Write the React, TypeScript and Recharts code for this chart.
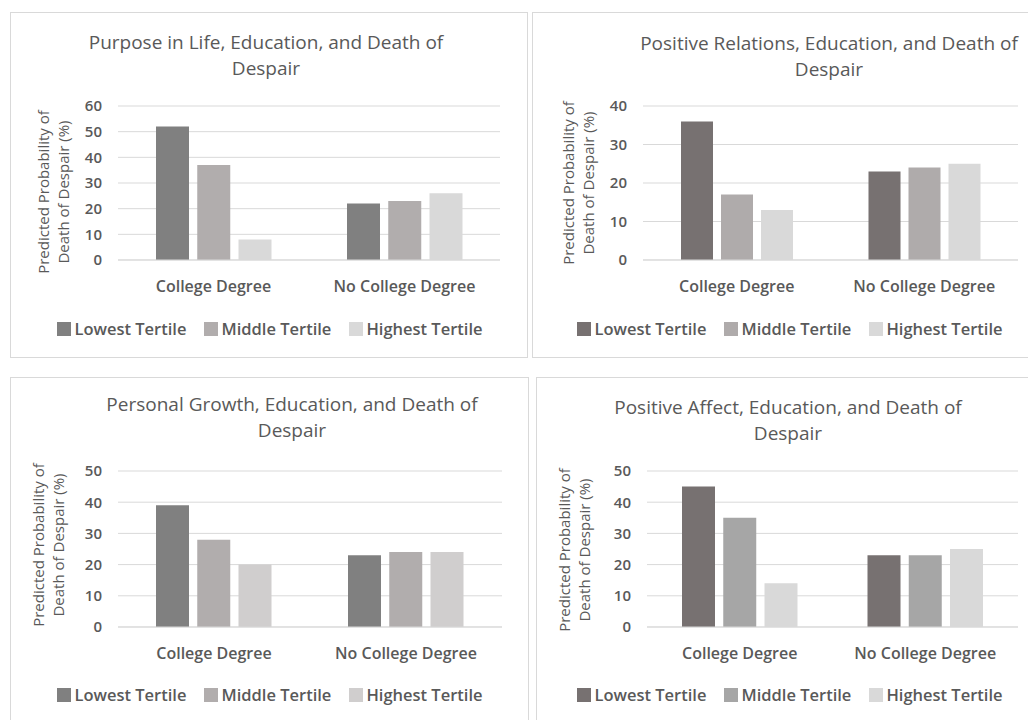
import { BarChart, Bar, XAxis, YAxis, CartesianGrid } from 'recharts';

const categories = ['College Degree', 'No College Degree'];
const seriesNames = ['Lowest Tertile', 'Middle Tertile', 'Highest Tertile'];

// values per category: [college, no college]
const purposeLowest = [52, 22];
const purposeMiddle = [37, 23];
const purposeHighest = [8, 26];

const relationsLowest = [36, 23];
const relationsMiddle = [17, 24];
const relationsHighest = [13, 25];

const growthLowest = [39, 23];
const growthMiddle = [28, 24];
const growthHighest = [20, 24];

const affectLowest = [45, 23];
const affectMiddle = [35, 23];
const affectHighest = [14, 25];

const purposeTicks = [0, 10, 20, 30, 40, 50, 60];
const relationsTicks = [0, 10, 20, 30, 40];
const growthTicks = [0, 10, 20, 30, 40, 50];
const affectTicks = [0, 10, 20, 30, 40, 50];

const TEXT = '#595959';
const FONT = '"Open Sans", "Liberation Sans", sans-serif';

function buildRows(lowest: number[], middle: number[], highest: number[]) {
  return categories.map((name, i) => ({
    name,
    lowest: lowest[i],
    middle: middle[i],
    highest: highest[i],
  }));
}

interface PanelProps {
  box: { x: number; y: number; w: number; h: number };
  plot: { left: number; right: number; top: number; bottom: number };
  title: string[];
  titleX: number;
  titleY: number;
  yLabelX: number;
  yLabelY: number;
  legendX: number;
  legendY: number;
  rows: { name: string; lowest: number; middle: number; highest: number }[];
  ticks: number[];
  colors: string[];
  barSize: number;
}

function Panel(p: PanelProps) {
  const chartLeft = p.plot.left - 110;
  const chartTop = p.plot.top - 20;
  const chartW = p.plot.right - chartLeft + 10;
  const chartH = p.plot.bottom - chartTop + 40;
  const max = p.ticks[p.ticks.length - 1];
  return (
    <>
      <div
        style={{
          position: 'absolute',
          left: p.box.x,
          top: p.box.y,
          width: p.box.w,
          height: p.box.h,
          border: '1px solid #d9d9d9',
          boxSizing: 'border-box',
          background: '#fff',
        }}
      />
      <div
        style={{
          position: 'absolute',
          left: p.titleX - 250,
          top: p.titleY - 13,
          width: 500,
          textAlign: 'center',
          fontFamily: FONT,
          fontSize: 19,
          lineHeight: '26px',
          color: TEXT,
          whiteSpace: 'nowrap',
        }}
      >
        {p.title.map((t) => (
          <div key={t}>{t}</div>
        ))}
      </div>
      <div
        style={{
          position: 'absolute',
          left: p.yLabelX - 100,
          top: p.yLabelY - 20,
          width: 200,
          height: 40,
          transform: 'rotate(-90deg)',
          textAlign: 'center',
          fontFamily: FONT,
          fontSize: 15,
          lineHeight: '20px',
          color: TEXT,
          whiteSpace: 'nowrap',
        }}
      >
        <div>Predicted Probability of</div>
        <div>Death of Despair (%)</div>
      </div>
      <div style={{ position: 'absolute', left: chartLeft, top: chartTop }}>
        <BarChart
          width={chartW}
          height={chartH}
          data={p.rows}
          margin={{ top: 20, right: 10, left: 0, bottom: 10 }}
          barGap={p.barSize / 4}
          barSize={p.barSize}
        >
          <CartesianGrid vertical={false} stroke="#d9d9d9" />
          <XAxis
            dataKey="name"
            height={30}
            axisLine={{ stroke: '#d9d9d9' }}
            tickLine={false}
            tickSize={19}
            tickMargin={2}
            tick={{ fill: TEXT, fontSize: 16, fontFamily: FONT, fontWeight: 600 }}
          />
          <YAxis
            width={110}
            domain={[0, max]}
            ticks={p.ticks}
            interval={0}
            axisLine={false}
            tickLine={false}
            tickSize={14}
            tickMargin={2}
            tick={{ fill: TEXT, fontSize: 15, fontFamily: FONT, fontWeight: 600 }}
          />
          <Bar dataKey="lowest" name={seriesNames[0]} fill={p.colors[0]} isAnimationActive={false} />
          <Bar dataKey="middle" name={seriesNames[1]} fill={p.colors[1]} isAnimationActive={false} />
          <Bar dataKey="highest" name={seriesNames[2]} fill={p.colors[2]} isAnimationActive={false} />
        </BarChart>
      </div>
      <div
        style={{
          position: 'absolute',
          left: p.legendX - 250,
          top: p.legendY - 11,
          width: 500,
          display: 'flex',
          justifyContent: 'center',
          fontFamily: FONT,
          fontSize: 16.5,
          fontWeight: 600,
          lineHeight: '22px',
          color: TEXT,
          whiteSpace: 'nowrap',
        }}
      >
        {seriesNames.map((s, i) => (
          <span key={s} style={{ display: 'flex', alignItems: 'center', marginRight: i < 2 ? 18 : 0 }}>
            <span style={{ width: 14, height: 14, background: p.colors[i], marginRight: 3, display: 'inline-block' }} />
            {s}
          </span>
        ))}
      </div>
    </>
  );
}

export default function App() {
  return (
    <div style={{ position: 'relative', width: 1028, height: 720, overflow: 'hidden', background: '#fff' }}>
      <style>{'body{margin:0}'}</style>
      <Panel
        box={{ x: 10, y: 12, w: 518, h: 346 }}
        plot={{ left: 118, right: 500, top: 106, bottom: 260 }}
        title={['Purpose in Life, Education, and Death of', 'Despair']}
        titleX={266}
        titleY={42}
        yLabelX={53}
        yLabelY={192}
        legendX={270}
        legendY={329}
        rows={buildRows(purposeLowest, purposeMiddle, purposeHighest)}
        ticks={purposeTicks}
        colors={['#808080', '#b1adad', '#d9d9d9']}
        barSize={33}
      />
      <Panel
        box={{ x: 532, y: 12, w: 520, h: 346 }}
        plot={{ left: 643, right: 1018, top: 106, bottom: 260 }}
        title={['Positive Relations, Education, and Death of', 'Despair']}
        titleX={829}
        titleY={43}
        yLabelX={578}
        yLabelY={183}
        legendX={790}
        legendY={329}
        rows={buildRows(relationsLowest, relationsMiddle, relationsHighest)}
        ticks={relationsTicks}
        colors={['#777171', '#afabab', '#d9d9d9']}
        barSize={32}
      />
      <Panel
        box={{ x: 10, y: 377, w: 519, h: 360 }}
        plot={{ left: 118, right: 502, top: 471, bottom: 627 }}
        title={['Personal Growth, Education, and Death of', 'Despair']}
        titleX={292}
        titleY={404}
        yLabelX={48}
        yLabelY={545}
        legendX={270}
        legendY={695}
        rows={buildRows(growthLowest, growthMiddle, growthHighest)}
        ticks={growthTicks}
        colors={['#808080', '#b1adad', '#d0cece']}
        barSize={33}
      />
      <Panel
        box={{ x: 536, y: 377, w: 520, h: 360 }}
        plot={{ left: 647, right: 1018, top: 471, bottom: 627 }}
        title={['Positive Affect, Education, and Death of', 'Despair']}
        titleX={788}
        titleY={407}
        yLabelX={574}
        yLabelY={550}
        legendX={790}
        legendY={695}
        rows={buildRows(affectLowest, affectMiddle, affectHighest)}
        ticks={affectTicks}
        colors={['#777171', '#a6a6a6', '#d9d9d9']}
        barSize={33}
      />
    </div>
  );
}
